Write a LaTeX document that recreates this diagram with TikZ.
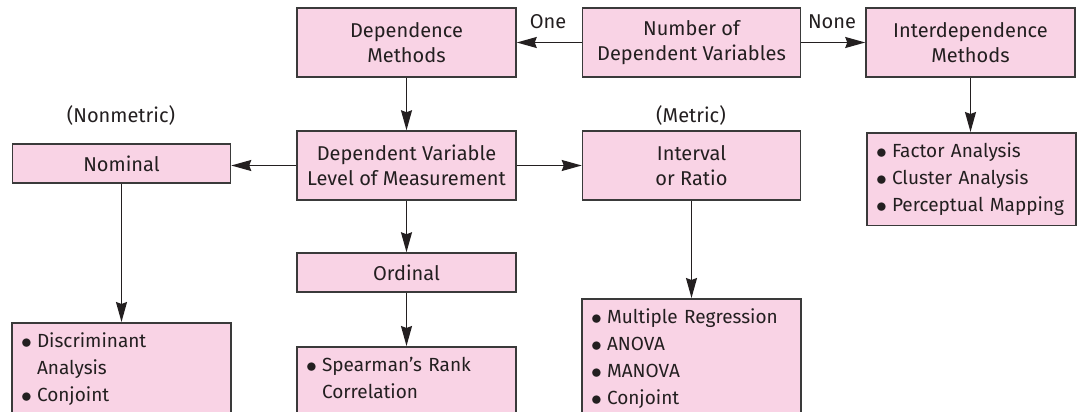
\documentclass[tikz,border=0pt]{standalone}
\usepackage{fontspec}
\setmainfont{Fira Sans}
\usetikzlibrary{arrows.meta}
\definecolor{boxpink}{HTML}{F9D3E5}
\definecolor{edge}{HTML}{3A3A3A}
\definecolor{ink}{HTML}{231F20}
% one list entry, kept on a single line
\newcommand{\li}[1]{\mbox{\makebox[15pt][l]{\hspace{-1pt}\raisebox{-1pt}{\scalebox{1.25}{$\bullet$}}}#1}}
\newcommand{\lc}[1]{\mbox{\hspace{15pt}#1}}
\tikzset{arr/.style={draw=ink, line width=1.4pt, -{Stealth[length=20pt, width=11pt, inset=2pt]}},
  box/.style={draw=edge, fill=boxpink, line width=1.5pt, inner sep=0pt, align=center, text=ink,
    font=\fontsize{20}{25}\selectfont},
  lst/.style={box, anchor=north, align=left, text width=#1, inner xsep=10pt, inner ysep=10pt,
    font=\fontsize{19}{27}\selectfont},
  tag/.style={text=ink, font=\fontsize{20}{25}\selectfont}}

\begin{document}
\begin{tikzpicture}[x=1pt, y=-1pt]
  \useasboundingbox (0,0) rectangle (1077,412);
  \clip (0,0) rectangle (1077,412);
  % top row
  \node[box, minimum width=218pt, minimum height=69pt] (num)   at (691.5,42.5) {Number of\\Dependent Variables};
  \node[box, minimum width=219pt, minimum height=69pt] (dep)   at (406.5,42.5) {Dependence\\Methods};
  \node[box, minimum width=209pt, minimum height=69pt] (inter) at (970.5,42.5) {Interdependence\\Methods};
  \node[tag] (one)  at (548,22) {One};
  \node[tag] (none) at (832,22) {None};
  % measurement level
  \node[box, minimum width=219pt, minimum height=69pt] (dv)   at (406.5,165.5) {Dependent Variable\\Level of Measurement};
  \node[box, minimum width=218pt, minimum height=69pt] (intv) at (691.5,165.5) {Interval\\or Ratio};
  \node[box, minimum width=218pt, minimum height=39pt] (nom)  at (121.5,163.5) {Nominal};
  \node[box, minimum width=219pt, minimum height=39pt] (ord)  at (406.5,272.5) {Ordinal};
  \node[tag] (nonmet) at (121,115) {(Nonmetric)};
  \node[tag] (met)    at (691,115) {(Metric)};
  % technique lists
  \node[lst=189pt] (fac)  at (971.5,132) {\li{Factor Analysis}\\\li{Cluster Analysis}\\\li{Perceptual Mapping}};
  \node[lst=199pt] (disc) at (121.5,322) {\li{Discriminant}\\\lc{Analysis}\\\li{Conjoint}\\\lc{}};
  \node[lst=199pt] (sp)   at (406.5,346) {\li{Spearman’s Rank}\\\lc{Correlation}\\\lc{}};
  \node[lst=199pt] (mr)   at (691.5,298) {\li{Multiple Regression}\\\li{ANOVA}\\\li{MANOVA}\\\li{Conjoint}\\\lc{}};
  % connectors
  \draw[arr] (num.west) -- (dep.east);
  \draw[arr] (num.east) -- (inter.west);
  \draw[arr] (dep.south) -- (dv.north);
  \draw[arr] (dv.west) -- (dv.west -| nom.east);
  \draw[arr] (dv.east) -- (intv.west);
  \draw[arr] (dv.south) -- (ord.north);
  \draw[arr] (inter.south) -- (inter.south |- fac.north);
  \draw[arr] (nom.south) -- (disc.north);
  \draw[arr] (ord.south) -- (sp.north);
  \draw[arr] (intv.south) -- (mr.north);
\end{tikzpicture}
\end{document}
